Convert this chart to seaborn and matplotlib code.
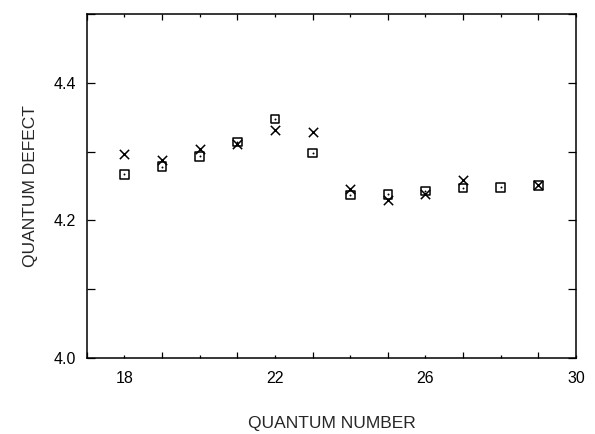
import numpy as np
import pandas as pd
import matplotlib
matplotlib.use('Agg')
import matplotlib.pyplot as plt
import seaborn as sns

# quantum defects (NaN = no cross visible)
quantum_number = [18, 19, 20, 21, 22, 23, 24, 25, 26, 27, 28, 29]
defect_cross = [4.296, 4.288, 4.304, 4.311, 4.332, 4.329, 4.245, 4.230, 4.239, 4.258, np.nan, 4.251]
defect_square = [4.267, 4.278, 4.293, 4.314, 4.347, 4.298, 4.237, 4.238, 4.243, 4.247, 4.248, 4.251]

x_ticks = list(range(17, 31))
x_labels = ['18', '22', '26', '30']
y_ticks = [4.0, 4.1, 4.2, 4.3, 4.4, 4.5]
y_labels = ['4.0', '4.2', '4.4']

sns.set_style('ticks')
plt.rcParams['font.family'] = ['Liberation Sans', 'DejaVu Sans']

df = pd.DataFrame({'n': quantum_number, 'cross': defect_cross, 'square': defect_square})

fig = plt.figure(figsize=(5.95, 4.34), dpi=100)
ax = fig.add_axes([0.146, 0.175, 0.822, 0.793])

sns.scatterplot(data=df, x='n', y='cross', marker='x', s=45, color='black',
                linewidth=1.1, ax=ax, legend=False)
sns.scatterplot(data=df, x='n', y='square', marker='s', s=38, facecolors='none',
                edgecolor='black', linewidth=1.1, ax=ax, legend=False)
sns.scatterplot(data=df, x='n', y='square', marker='o', s=2, color='black',
                linewidth=0, ax=ax, legend=False)

ax.set_xlim(17, 30)
ax.set_ylim(4.0, 4.5)
ax.set_xticks(x_ticks)
ax.set_xticklabels([str(t) if str(t) in x_labels else '' for t in x_ticks])
ax.set_yticks(y_ticks)
ax.set_yticklabels([f'{t:.1f}' if f'{t:.1f}' in y_labels else '' for t in y_ticks])
ax.tick_params(direction='in', top=True, right=True, length=6, width=0.9,
               labelsize=11.5, colors='black')
ax.tick_params(axis='x', pad=9)
ax.tick_params(axis='y', pad=8)
# odd quantum numbers get the longer ticks, as in the original
for t, tick in zip(x_ticks, ax.xaxis.get_major_ticks()):
    ln = 4.5 if t % 2 == 1 else 2.5
    tick.tick1line.set_markersize(ln)
    tick.tick2line.set_markersize(ln)
for spine in ax.spines.values():
    spine.set_visible(True)
    spine.set_linewidth(1.1)
    spine.set_color('black')

ax.set_xlabel('QUANTUM NUMBER', fontsize=12.5, labelpad=22)
ax.set_ylabel('QUANTUM DEFECT', fontsize=12.5, labelpad=11)

fig.savefig('out.png', dpi=100)
plt.close(fig)
